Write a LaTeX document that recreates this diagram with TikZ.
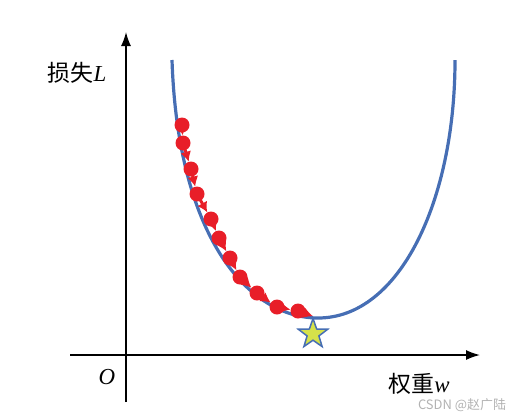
\documentclass[tikz,border=0pt]{standalone}
\usepackage{fontspec}
\setmainfont{Liberation Serif}
\newfontfamily\cjk{Noto Sans CJK SC}
\usetikzlibrary{arrows.meta,shapes.geometric}
\definecolor{curveblue}{RGB}{70,110,180}
\definecolor{dotred}{RGB}{232,30,40}
\definecolor{staryellow}{RGB}{214,226,74}
\tikzset{
  axis/.style={line width=1.5bp,-{Latex[length=14bp,width=10bp]}},
  loss/.style={line width=3.2bp,draw=curveblue},
  dot/.style={circle,fill=dotred,inner sep=0pt,minimum size=15bp},
  stepline/.style={draw=dotred,line width=3bp,-{Latex[length=10bp,width=11bp]}},
  goal/.style={star,star points=5,star point ratio=2.5,fill=staryellow,draw=curveblue,
    line width=1.5bp,minimum size=31bp,inner sep=0pt},
  lbl/.style={font=\fontsize{23}{23}\selectfont,inner sep=0pt}
}
\begin{document}
\begin{tikzpicture}[x=1bp,y=-1bp]
  \useasboundingbox (0,0) rectangle (523,415);

  % axes
  \coordinate (xs) at (70,355);
  \coordinate (xe) at (480,355);
  \coordinate (ys) at (126,402);
  \coordinate (ye) at (126,32);
  \draw[axis] (xs) -- (xe);
  \draw[axis] (ys) -- (ye);

  % loss curve
  \draw[loss] (172,60) .. controls (178,240) and (250,318) .. (318,318)
              .. controls (400,318) and (455,200) .. (455,60);

  \node[goal] (min) at (313,334) {};

  % gradient steps
  \foreach \x/\y [count=\i] in {182/125,183/143,191/169,197/194,211/219,219/238,
                                230/258,240/277,257/293,277/307,298/311}
    \node[dot] (p\i) at (\x,\y) {};
  \foreach \i [evaluate=\i as \j using int(\i+1)] in {1,...,10}
    \draw[stepline] (p\i.center) -- (p\j);
  \draw[stepline] (p11.center) -- (min.north);

  % labels
  \node[lbl] (ylab) at (77,73) {{\cjk 损失}\textit{L}};
  \node[lbl] (xlab) at (419,384) {{\cjk 权重}\textit{w}};
  \node[lbl] (orig) at (107,377) {\textit{O}};
  \node[font=\cjk\fontsize{13}{13}\selectfont,text=gray!60,inner sep=0pt] (mark) at (462,405) {CSDN @赵广陆};
\end{tikzpicture}
\end{document}
